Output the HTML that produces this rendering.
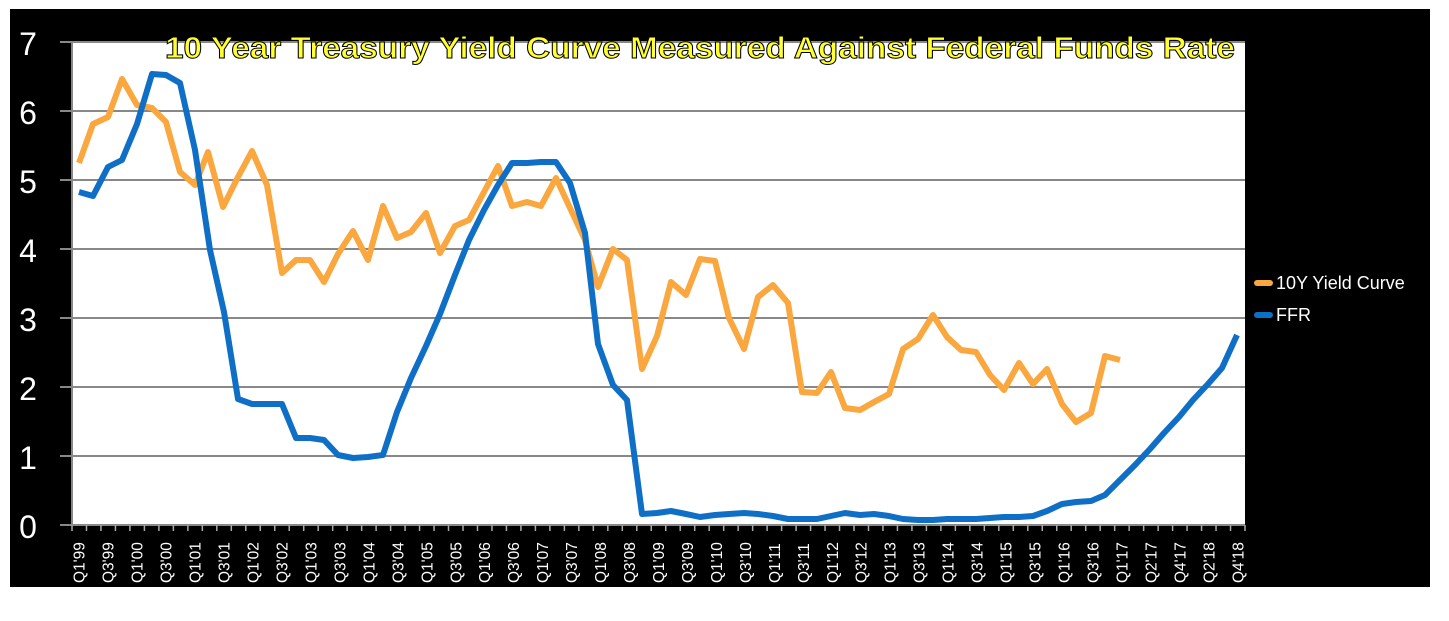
<!DOCTYPE html>
<html><head><meta charset="utf-8"><style>
html,body{margin:0;padding:0;background:#fff;}
svg{display:block;font-family:"Liberation Sans",sans-serif;}
</style></head><body>
<svg width="1449" height="621" viewBox="0 0 1449 621" xmlns="http://www.w3.org/2000/svg">
<rect x="0" y="0" width="1449" height="621" fill="#fff"/>
<rect x="10" y="9" width="1420" height="578" fill="#000"/>
<rect x="72" y="42" width="1173" height="483" fill="#fff"/>
<g stroke="#888" stroke-width="2">
<line x1="60" y1="42" x2="1245" y2="42"/>
<line x1="60" y1="111" x2="1245" y2="111"/>
<line x1="60" y1="180" x2="1245" y2="180"/>
<line x1="60" y1="249" x2="1245" y2="249"/>
<line x1="60" y1="318" x2="1245" y2="318"/>
<line x1="60" y1="387" x2="1245" y2="387"/>
<line x1="60" y1="456" x2="1245" y2="456"/>
<line x1="60" y1="525" x2="1245" y2="525"/>
<line x1="72" y1="42" x2="72" y2="525"/>
</g>
<g fill="#fff" font-size="32" text-anchor="middle">
<text x="28" y="55">7</text><text x="28" y="124">6</text><text x="28" y="193">5</text>
<text x="28" y="262">4</text><text x="28" y="331">3</text><text x="28" y="400">2</text>
<text x="28" y="469">1</text><text x="28" y="538">0</text>
</g>
<g id="ticks" stroke="#aaa" stroke-width="1.5"></g>
<g id="xl" fill="#fff" font-size="15.5"></g>
<polyline fill="none" stroke="#F9A73E" stroke-width="6" stroke-linejoin="round" points="79,163 93,124 108,117 122,79 137,105 152,108 166,122 180,172 195,185 208,152 223,207 238,177 252,151 267,185 282,273 296,260 310,260 324,282 338,254 353,231 368,260 383,206 397,238 411,232 426,213 440,253 455,226 469,220 484,192 498,166 512,206 527,202 541,206 556,178 570,208 585,240 598,287 613,249 627,260 642,369 657,336 671,282 686,295 700,259 715,261 729,318 744,349 758,297 773,285 788,303 802,392 817,393 831,372 845,408 860,410 874,402 889,394 903,349 918,339 933,315 947,337 961,350 976,352 990,375 1004,390 1019,363 1033,384 1047,369 1062,404 1076,422 1091,413 1105,356 1120,360"/>
<polyline fill="none" stroke="#0F6FC6" stroke-width="6" stroke-linejoin="round" points="79,192 93,196 108,167 122,160 137,124 152,74 166,75 180,83 195,150 210,250 224,312 238,399 252,404 267,404 282,404 296,438 310,438 324,440 338,455 353,458 368,457 383,455 397,412 411,378 426,346 440,314 455,275 469,240 484,210 498,185 512,163 527,163 541,162 556,162 570,183 585,233 598,344 613,385 627,400 642,514 657,513 671,511 686,514 700,517 715,515 729,514 744,513 758,514 773,516 788,519 802,519 817,519 831,516 845,513 860,515 874,514 889,516 903,519 918,520 933,520 947,519 961,519 976,519 990,518 1004,517 1019,517 1033,516 1047,511 1062,504 1076,502 1091,501 1105,495 1120,480 1135,465 1150,449 1164,433 1179,417 1193,400 1208,384 1222,368 1237,335"/>
<text x="700" y="58" text-anchor="middle" font-size="31" font-weight="bold" fill="#FFFF33" stroke="#000" stroke-width="1" textLength="1070" lengthAdjust="spacingAndGlyphs">10 Year Treasury Yield Curve Measured Against Federal Funds Rate</text>
<line x1="1257" y1="283" x2="1270" y2="283" stroke="#F9A73E" stroke-width="6" stroke-linecap="round"/>
<line x1="1257" y1="315" x2="1270" y2="315" stroke="#0F6FC6" stroke-width="6" stroke-linecap="round"/>
<text x="1276" y="289" fill="#fff" font-size="18">10Y Yield Curve</text>
<text x="1276" y="321" fill="#fff" font-size="18">FFR</text>
</svg>
<script>
(function(){
var ns="http://www.w3.org/2000/svg",t=document.getElementById("ticks"),xl=document.getElementById("xl");
var n=81,w=1173/n;
for(var i=0;i<=n;i++){var x=72+i*w;var l=document.createElementNS(ns,"line");l.setAttribute("x1",x);l.setAttribute("x2",x);l.setAttribute("y1",525);l.setAttribute("y2",531);t.appendChild(l);}
var extra=["Q2'17","Q4'17","Q2'18","Q4'18"];
for(var i=0;i<=80;i+=2){var s;
if(i<=72){var yr=99+Math.floor(i/4);var q=(i%4)+1;s="Q"+q+"'"+String(yr%100).padStart(2,"0");}
else{s=extra[(i-74)/2];}
var x=72+(i+0.5)*w+5.5;var tx=document.createElementNS(ns,"text");tx.setAttribute("transform","translate("+x+",583) rotate(-90)");tx.textContent=s;xl.appendChild(tx);}
})();
</script>
</body></html>
